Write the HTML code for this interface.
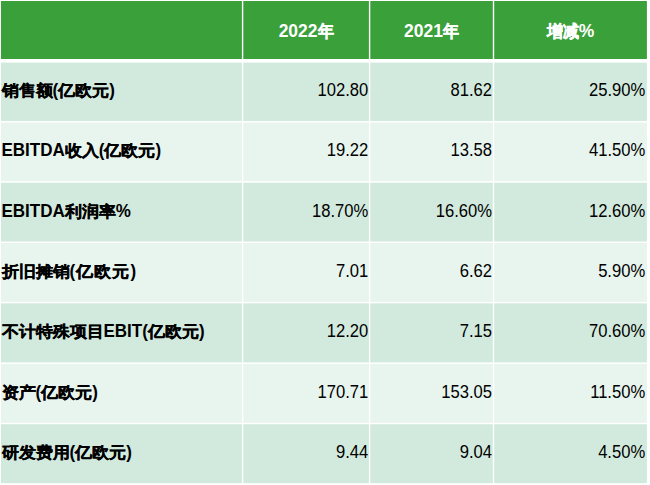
<!DOCTYPE html>
<html><head><meta charset="utf-8">
<style>
html,body{margin:0;padding:0;background:#fff;width:650px;height:485px;overflow:hidden;}
body{font-family:"Liberation Sans",sans-serif;position:relative;}
svg{position:absolute;left:0;top:0;}
.t{position:absolute;white-space:nowrap;line-height:20px;height:20px;}
.ht{color:#fff;font-weight:bold;font-size:17.5px;text-align:center;transform:scaleY(1.06);transform-origin:50% 60%;}
.ht .k{-webkit-text-stroke:0.35px #fff;font-size:16px;}
.lt{color:#000;font-weight:bold;font-size:17px;}
.lt .l{display:inline-block;transform:scaleY(1.07);transform-origin:50% 75%;}
.lt .k{-webkit-text-stroke:0.3px #000;display:inline-block;transform:scaleY(0.94);transform-origin:50% 80%;}
.nt{color:#000;font-size:16.6px;text-align:right;transform:scaleY(1.095);transform-origin:50% 70%;}
</style></head><body>
<svg width="650" height="485" viewBox="0 0 650 485">
<rect x="0" y="0" width="650" height="485" fill="#fff"/>

<rect x="1.00" y="1.00" width="240.90" height="58.00" fill="#3aa03a"/>
<rect x="243.30" y="1.00" width="125.60" height="58.00" fill="#3aa03a"/>
<rect x="370.30" y="1.00" width="122.50" height="58.00" fill="#3aa03a"/>
<rect x="494.20" y="1.00" width="152.70" height="58.00" fill="#3aa03a"/>
<rect x="1.00" y="62.60" width="240.90" height="58.40" fill="#d2eadd"/>
<rect x="243.30" y="62.60" width="125.60" height="58.40" fill="#d2eadd"/>
<rect x="370.30" y="62.60" width="122.50" height="58.40" fill="#d2eadd"/>
<rect x="494.20" y="62.60" width="152.70" height="58.40" fill="#d2eadd"/>
<rect x="1.00" y="122.50" width="240.90" height="58.65" fill="#e8f4ee"/>
<rect x="243.30" y="122.50" width="125.60" height="58.65" fill="#e8f4ee"/>
<rect x="370.30" y="122.50" width="122.50" height="58.65" fill="#e8f4ee"/>
<rect x="494.20" y="122.50" width="152.70" height="58.65" fill="#e8f4ee"/>
<rect x="1.00" y="182.65" width="240.90" height="58.90" fill="#d2eadd"/>
<rect x="243.30" y="182.65" width="125.60" height="58.90" fill="#d2eadd"/>
<rect x="370.30" y="182.65" width="122.50" height="58.90" fill="#d2eadd"/>
<rect x="494.20" y="182.65" width="152.70" height="58.90" fill="#d2eadd"/>
<rect x="1.00" y="243.05" width="240.90" height="58.80" fill="#e8f4ee"/>
<rect x="243.30" y="243.05" width="125.60" height="58.80" fill="#e8f4ee"/>
<rect x="370.30" y="243.05" width="122.50" height="58.80" fill="#e8f4ee"/>
<rect x="494.20" y="243.05" width="152.70" height="58.80" fill="#e8f4ee"/>
<rect x="1.00" y="303.35" width="240.90" height="59.10" fill="#d2eadd"/>
<rect x="243.30" y="303.35" width="125.60" height="59.10" fill="#d2eadd"/>
<rect x="370.30" y="303.35" width="122.50" height="59.10" fill="#d2eadd"/>
<rect x="494.20" y="303.35" width="152.70" height="59.10" fill="#d2eadd"/>
<rect x="1.00" y="363.95" width="240.90" height="58.80" fill="#e8f4ee"/>
<rect x="243.30" y="363.95" width="125.60" height="58.80" fill="#e8f4ee"/>
<rect x="370.30" y="363.95" width="122.50" height="58.80" fill="#e8f4ee"/>
<rect x="494.20" y="363.95" width="152.70" height="58.80" fill="#e8f4ee"/>
<rect x="1.00" y="424.25" width="240.90" height="58.95" fill="#d2eadd"/>
<rect x="243.30" y="424.25" width="125.60" height="58.95" fill="#d2eadd"/>
<rect x="370.30" y="424.25" width="122.50" height="58.95" fill="#d2eadd"/>
<rect x="494.20" y="424.25" width="152.70" height="58.95" fill="#d2eadd"/>
</svg>
<div class="t ht" style="left:243.30px;width:125.60px;top:21.0px">2022<span class="k">年</span></div>
<div class="t ht" style="left:370.30px;width:122.50px;top:21.0px">2021<span class="k">年</span></div>
<div class="t ht" style="left:494.20px;width:152.70px;top:21.0px"><span class="k">增减</span>%</div>
<div class="t lt" style="left:1.5px;top:81.00px"><span class="k">销售额</span><span class="l">(</span><span class="k">亿欧元</span><span class="l">)</span></div>
<div class="t nt" style="right:281.70px;top:81.00px">102.80</div>
<div class="t nt" style="right:158.00px;top:81.00px">81.62</div>
<div class="t nt" style="right:4.80px;top:81.00px">25.90%</div>
<div class="t lt" style="left:1.5px;top:141.35px"><span class="l">EBITDA</span><span class="k">收入</span><span class="l">(</span><span class="k">亿欧元</span><span class="l">)</span></div>
<div class="t nt" style="right:281.70px;top:141.35px">19.22</div>
<div class="t nt" style="right:158.00px;top:141.35px">13.58</div>
<div class="t nt" style="right:4.80px;top:141.35px">41.50%</div>
<div class="t lt" style="left:1.5px;top:201.70px"><span class="l">EBITDA</span><span class="k">利润率</span><span class="l">%</span></div>
<div class="t nt" style="right:281.70px;top:201.70px">18.70%</div>
<div class="t nt" style="right:158.00px;top:201.70px">16.60%</div>
<div class="t nt" style="right:4.80px;top:201.70px">12.60%</div>
<div class="t lt" style="left:1.5px;top:262.05px"><span class="k">折旧摊销</span><span class="l" style="letter-spacing:1.1px">(</span><span class="k" style="letter-spacing:1.1px">亿欧元</span><span class="l">)</span></div>
<div class="t nt" style="right:281.70px;top:262.05px">7.01</div>
<div class="t nt" style="right:158.00px;top:262.05px">6.62</div>
<div class="t nt" style="right:4.80px;top:262.05px">5.90%</div>
<div class="t lt" style="left:1.5px;top:322.40px"><span class="k">不计特殊项目</span><span class="l">EBIT(</span><span class="k">亿欧元</span><span class="l">)</span></div>
<div class="t nt" style="right:281.70px;top:322.40px">12.20</div>
<div class="t nt" style="right:158.00px;top:322.40px">7.15</div>
<div class="t nt" style="right:4.80px;top:322.40px">70.60%</div>
<div class="t lt" style="left:1.5px;top:382.75px"><span class="k">资产</span><span class="l">(</span><span class="k">亿欧元</span><span class="l">)</span></div>
<div class="t nt" style="right:281.70px;top:382.75px">170.71</div>
<div class="t nt" style="right:158.00px;top:382.75px">153.05</div>
<div class="t nt" style="right:4.80px;top:382.75px">11.50%</div>
<div class="t lt" style="left:1.5px;top:443.10px"><span class="k">研发费用</span><span class="l">(</span><span class="k">亿欧元</span><span class="l">)</span></div>
<div class="t nt" style="right:281.70px;top:443.10px">9.44</div>
<div class="t nt" style="right:158.00px;top:443.10px">9.04</div>
<div class="t nt" style="right:4.80px;top:443.10px">4.50%</div>
</body></html>
